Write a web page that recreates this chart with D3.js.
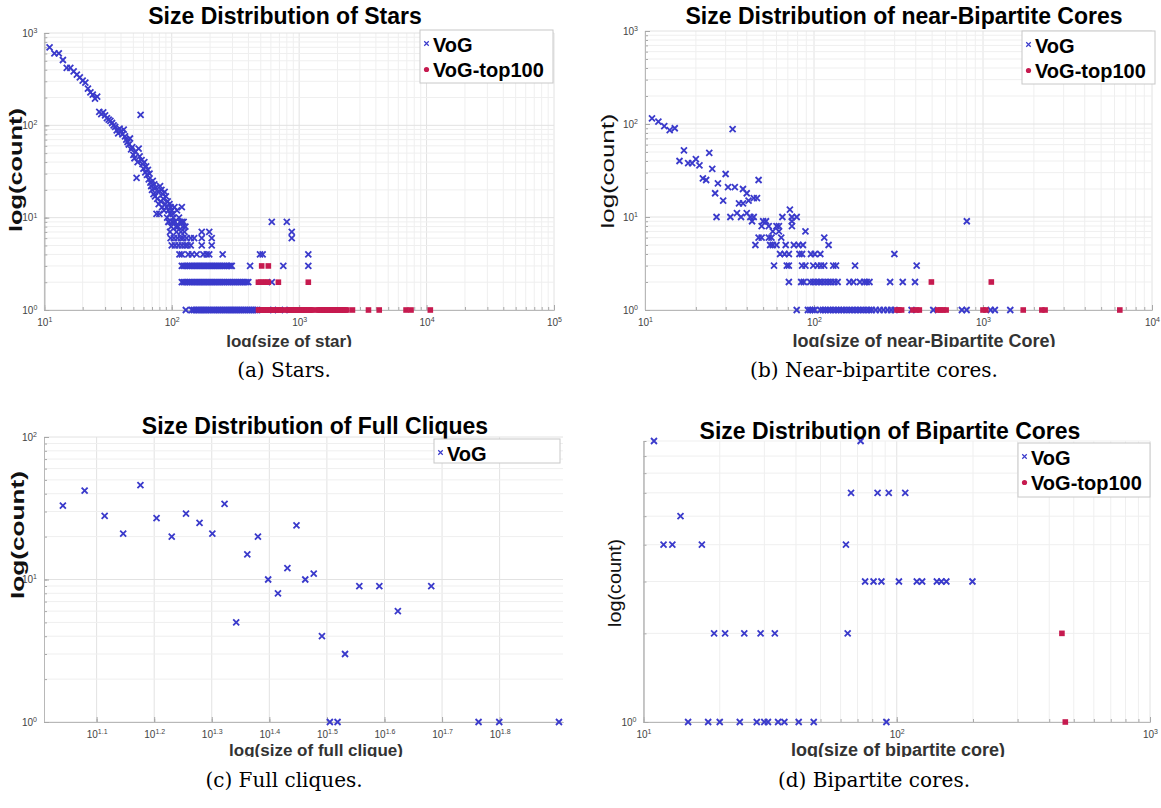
<!DOCTYPE html>
<html>
<head>
<meta charset="utf-8">
<script src="https://d3js.org/d3.v7.min.js"></script>
<style>
  body { margin: 0; background: #fff; }
  svg text { font-family: "Liberation Sans", Arial, sans-serif; }
  .title { font-size: 23px; font-weight: bold; fill: #000; }
  .xlabel { font-weight: bold; fill: #333; }
  .legend text { font-size: 20px; font-weight: bold; fill: #000; }
  .caption { font-size: 20px; fill: #000; }
  .axis text { font-size: 10px; fill: #444; }
  .axis path { stroke: #b8b8b8; }
  .axis line { stroke: #a8a8a8; }
</style>
</head>
<body>
<script>
// ---- (a) stars: [size, count] ----
var starsVoG = [
  [11,700],[12,600],[13,600],[14,510],[15,420],[16,420],[17,385],[18,355],[19,330],[20,305],[21,290],[22,250],[23,228],[24,215],[25,195],[26,205],
  [27,140],[28,132],[29,138],[30,128],[31,120],[32,115],[33,112],[34,106],[35,100],[36,96],[37,88],[38,82],[39,92],[40,86],[41,80],[42,90],
  [43,76],[44,70],[45,66],[46,62],[47,72],[48,55],[49,58],[50,48],[51,44],[52,52],[53,27],[54,40],[55,56],[56,46],[57,130],[58,42],[59,38],[60,34],
  [61,40],[62,31],[63,36],[64,29],[65,33],[66,26],[67,30],[68,24],[69,22],[70,20],[71,25],[72,18],[73,23],[74,17],[75,21],[76,11],[77,16],[78,19],
  [79,14],[80,11],[81,22],[82,15],[83,20],[84,13],[85,18],[86,16],[87,12],[88,19],[89,14],[90,17],[91,13],[92,10],[93,15],[94,12],[95,9],[96,14],
  [97,11],[98,13],[99,8],[100,12],[101,9],[102,11],[103,10],[105,13],[106,9],[108,8],[110,12],[112,8],[114,10],[116,9],[118,7],[120,13],[122,8],[124,9],[126,7],[128,8],
  [94,9],[106,9],[120,9],[610,9],[800,9],
  [97,7],[109,7],[172,7],[197,7],[875,7],
  [98,6],[104,6],[111,6],[118,6],[123,6],[131,6],[141,6],[150,6],[172,6],[206,6],[875,6],
  [100,5],[106,5],[113,5],[120,5],[127,5],[133,5],[141,5],[172,5],[206,5],
  [115,4],[120,4],[135,4],[144,4],[157,4],[177,4],[188,4],[197,4],[251,4],[493,4],[517,4],[1180,4],
  [120,3],[124,3],[128,3],[133,3],[138,3],[143,3],[148,3],[153,3],[158,3],[164,3],[170,3],[176,3],[182,3],[189,3],[196,3],[203,3],[210,3],[218,3],
  [226,3],[234,3],[242,3],[251,3],[260,3],[270,3],[280,3],[290,3],[296,3],[412,3],[751,3],[1180,3],
  [120,2],[124,2],[128,2],[133,2],[138,2],[143,2],[148,2],[153,2],[158,2],[164,2],[170,2],[176,2],[182,2],[189,2],[196,2],[203,2],[210,2],[218,2],
  [226,2],[234,2],[242,2],[251,2],[260,2],[270,2],[280,2],[290,2],[301,2],[312,2],[323,2],[335,2],[347,2],[360,2],[373,2],[386,2],[399,2],[610,2],
  [129,1],[144,1],[149,1],[154,1],[159,1],[164,1],[170,1],[176,1],[182,1],[188,1],[195,1],[202,1],[209,1],[216,1],[224,1],[232,1],[240,1],[249,1],
  [258,1],[267,1],[277,1],[287,1],[297,1],[308,1],[319,1],[330,1],[342,1],[354,1],[367,1],[380,1],[394,1],[408,1],[423,1],[438,1],[454,1],[470,1],[625,1],[770,1]
];
var starsTop = [
  [508,3],[573,3],
  [479,2],[500,2],[525,2],[548,2],[573,2],[687,2],[1180,2],
  [480,1],[495,1],[510,1],[525,1],[540,1],[556,1],[573,1],[590,1],[608,1],[645,1],[665,1],[686,1],[708,1],[730,1],[795,1],[820,1],[845,1],[870,1],
  [896,1],[923,1],[950,1],[978,1],[1007,1],[1037,1],[1068,1],[1100,1],[1133,1],[1167,1],[1202,1],[1238,1],[1275,1],[1390,1],[1430,1],[1475,1],
  [1520,1],[1565,1],[1612,1],[1660,1],[1710,1],[1762,1],[1815,1],[1870,1],[1925,1],[1985,1],[2045,1],[2105,1],[2170,1],[2235,1],[2300,1],[2370,1],
  [2620,1],[3500,1],[4250,1],[6900,1],[7550,1],[10700,1]
];

// ---- (b) near-bipartite cores ----
var nbVoG = [
  [11,115],[12,106],[13,95],[14,86],[15,90],[33,88],
  [16,40],[17,52],[18,38],[19,38],[20,42],[21,36],[24,49],
  [22,26],[23,25],[25,33],[26,18],[27,23],[29,15],[30,29],
  [26.5,10],[31,21],[34,21],[32,10],[35,11],[36,14],[37,10],[38,14],[38,20],[40,18],[41,15],[40,11],[44,16],[46,16],[47,25],
  [42,10],[44,10],[43,9],[50,9],[52,9],[49,8],[54,8],[60,8],[62,8],[57,7],[62,7],
  [47,6],[49,6],[54,6],[56,6],[64,6],[45,5],[55,5],[57,5],[60,5],[68,5],[76,5],[81,5],[86,5],
  [72,12],[74,10],[79,10],[65,10],[74,9],[74,8],[89,7],
  [63,4],[67,4],[71,4],[82,4],[85,4],[96,4],[101,4],[109,4],[115,6],[122,5],[299,4],
  [58,3],[69,3],[71,3],[85,3],[89,3],[99,3],[105,3],[110,3],[115,3],[130,3],[135,3],[175,3],[405,3],
  [71,2],[84,2],[87,2],[95,2],[99,2],[103,2],[107,2],[111,2],[116,2],[121,2],[126,2],[132,2],[138,2],[162,2],[171,2],[187,2],
  [198,2],[205,2],[213,2],[282,2],[335,2],[396,2],
  [802,9],
  [79,1],[92,1],[95,1],[98,1],[101,1],[109,1],[113,1],[117,1],[121,1],[125,1],[130,1],[135,1],[140,1],[145,1],[150,1],[156,1],
  [162,1],[168,1],[175,1],[182,1],[189,1],[196,1],[204,1],[212,1],[220,1],[232,1],[245,1],[258,1],[272,1],[286,1],[300,1],
  [378,1],[508,1],[750,1],[800,1],[1110,1],[1175,1],[1450,1]
];
var nbTop = [
  [495,2],[1120,2],
  [310,1],[318,1],[330,1],[385,1],[405,1],[420,1],[540,1],[560,1],[580,1],[605,1],[1000,1],[1040,1],[1730,1],[2230,1],[2330,1],[6450,1]
];

// ---- (c) full cliques ----
var cliqueSize  = [11, 12, 13, 14, 15, 16, 17, 18, 19, 20, 21, 22, 23, 24, 25, 26, 27, 28, 29, 30, 31, 32, 33, 34, 36, 39, 42, 48, 58, 63, 80];
var cliqueCount = [33, 42, 28, 21, 46, 27, 20, 29, 25, 21, 34,  5, 15, 20, 10,  8, 12, 24, 10, 11,  4,  1,  1,  3,  9,  9,  6,  9,  1,  1,  1];

// ---- (d) bipartite cores ----
var bcVoG = [
  [11,9],[72,9],
  [66,6],[84,6],[93,6],[108,6],
  [14,5],
  [12,4],[13,4],[17,4],[63,4],
  [75,3],[81,3],[87,3],[102,3],[120,3],[126,3],[144,3],[150,3],[157,3],[199,3],
  [19,2],[21,2],[25,2],[29,2],[33,2],[64,2],
  [15,1],[18,1],[20,1],[24,1],[28,1],[30,1],[31,1],[34,1],[36,1],[41,1],[47,1],[91,1]
];
var bcTop = [[449,2],[463,1]];

var blue = "#3a3acb", red = "#c61a4f";

var svg = d3.select("body").append("svg")
  .attr("width", 1161)
  .attr("height", 808);

var xMark = "M-3,-3L3,3M-3,3L3,-3";

function minorValues(domain) {
  var out = [];
  var lo = Math.floor(Math.log10(domain[0])), hi = Math.ceil(Math.log10(domain[1]));
  for (var e = lo; e <= hi; e++) {
    for (var k = 1; k < 10; k++) {
      var v = k * Math.pow(10, e);
      if (v >= domain[0] * 0.999 && v <= domain[1] * 1.001) out.push(v);
    }
  }
  return out;
}

function supLabel(sel, fmt) {
  sel.selectAll(".tick text").each(function(d) {
    var t = d3.select(this);
    t.text("10");
    t.append("tspan")
      .attr("dy", "-0.55em")
      .style("font-size", "7px")
      .text(fmt(d));
  });
}

function drawPanel(p) {
  var clipId = "clip-" + p.id;
  svg.append("clipPath").attr("id", clipId)
    .append("rect")
    .attr("x", p.clip[0]).attr("y", p.clip[1])
    .attr("width", p.clip[2]).attr("height", p.clip[3]);

  var g = svg.append("g").attr("clip-path", "url(#" + clipId + ")");

  var x = d3.scaleLog().domain(p.xDomain).range([p.left, p.right]);
  var y = d3.scaleLog().domain(p.yDomain).range([p.bottom, p.top]);

  // grid
  var grid = g.append("g").attr("class", "grid");
  grid.selectAll("line.gx").data(p.xGrid).enter().append("line")
    .attr("x1", function(d) { return x(d); })
    .attr("x2", function(d) { return x(d); })
    .attr("y1", p.top).attr("y2", p.bottom)
    .attr("stroke", function(d) { return p.xTicks.indexOf(d) >= 0 ? "#e2e2e2" : "#efefef"; })
    .attr("stroke-width", 1);
  grid.selectAll("line.gy").data(p.yGrid).enter().append("line")
    .attr("y1", function(d) { return y(d); })
    .attr("y2", function(d) { return y(d); })
    .attr("x1", p.left).attr("x2", p.right)
    .attr("stroke", function(d) { return p.yTicks.indexOf(d) >= 0 ? "#e2e2e2" : "#efefef"; })
    .attr("stroke-width", 1);

  // minor tick marks
  g.append("g").attr("class", "axis")
    .attr("transform", "translate(0," + p.bottom + ")")
    .call(d3.axisBottom(x).tickValues(p.xGrid).tickSize(-3).tickSizeOuter(0).tickFormat(""));
  g.append("g").attr("class", "axis")
    .attr("transform", "translate(" + p.left + ",0)")
    .call(d3.axisLeft(y).tickValues(p.yGrid).tickSize(-3).tickSizeOuter(0).tickFormat(""));

  // major axes with labels
  var xa = g.append("g").attr("class", "axis")
    .attr("transform", "translate(0," + p.bottom + ")")
    .call(d3.axisBottom(x).tickValues(p.xTicks).tickSize(-5).tickSizeOuter(0).tickPadding(9));
  supLabel(xa, p.xExp);
  var ya = g.append("g").attr("class", "axis")
    .attr("transform", "translate(" + p.left + ",0)")
    .call(d3.axisLeft(y).tickValues(p.yTicks).tickSize(-5).tickSizeOuter(0).tickPadding(7));
  supLabel(ya, p.yExp);

  // points
  p.series.forEach(function(s) {
    var pts = g.append("g").selectAll("path").data(s.data).enter();
    if (s.kind === "x") {
      pts.append("path")
        .attr("transform", function(d) { return "translate(" + x(d[0]) + "," + y(d[1]) + ")"; })
        .attr("d", xMark)
        .attr("stroke", s.color)
        .attr("stroke-width", 1.8)
        .attr("fill", "none");
    } else {
      pts.append("rect")
        .attr("x", function(d) { return x(d[0]) - 2.8; })
        .attr("y", function(d) { return y(d[1]) - 2.8; })
        .attr("width", 5.6).attr("height", 5.6)
        .attr("fill", s.color);
    }
  });

  // title and labels
  g.append("text").attr("class", "title")
    .attr("x", p.titleX).attr("y", p.titleY)
    .attr("text-anchor", "middle")
    .text(p.title);
  g.append("text").attr("class", "xlabel")
    .attr("x", p.xlabelX).attr("y", p.xlabelY)
    .attr("text-anchor", "middle")
    .style("font-size", p.xlabelSize + "px")
    .text(p.xlabel);
  g.append("text")
    .attr("transform", "translate(" + p.ylabelX + "," + p.ylabelY + ") rotate(-90)")
    .attr("text-anchor", "middle")
    .attr("textLength", p.ylabelLen)
    .attr("lengthAdjust", "spacingAndGlyphs")
    .style("font-size", "19px")
    .style("font-weight", p.ylabelBold ? "bold" : "normal")
    .style("fill", "#111")
    .text("log(count)");

  // legend
  var lg = g.append("g").attr("class", "legend");
  lg.append("rect")
    .attr("x", p.legend[0]).attr("y", p.legend[1])
    .attr("width", p.legend[2]).attr("height", p.legend[3])
    .attr("fill", "#fff").attr("stroke", "#c8c8c8");
  p.series.forEach(function(s, i) {
    var cy = p.legend[1] + 13.5 + i * 26;
    if (s.kind === "x") {
      lg.append("path")
        .attr("transform", "translate(" + (p.legend[0] + 6.5) + "," + cy + ") scale(0.75)")
        .attr("d", xMark).attr("stroke", s.color).attr("stroke-width", 1.6).attr("fill", "none");
    } else {
      lg.append("circle")
        .attr("cx", p.legend[0] + 6.5).attr("cy", cy).attr("r", 2.6)
        .attr("fill", s.color);
    }
    lg.append("text")
      .attr("x", p.legend[0] + 13).attr("y", p.legend[1] + 22 + i * 25)
      .text(s.name);
  });

  // caption under the subfigure
  svg.append("text").attr("class", "caption")
    .attr("x", p.capX).attr("y", p.capY)
    .attr("text-anchor", "middle")
    .style("font-family", "'DejaVu Serif', serif")
    .text(p.caption);
}

var decFmt = function(d) { return String(Math.round(Math.log10(d))); };
var fracFmt = function(d) { return d3.format(".1f")(Math.log10(d)); };

var cliques = cliqueSize.map(function(s, i) { return [s, cliqueCount[i]]; });

var panels = [
  {
    id: "a", left: 44.3, right: 554, top: 33, bottom: 310,
    xDomain: [10, 1e5], yDomain: [1, 1000],
    xTicks: [10, 100, 1000, 1e4, 1e5], yTicks: [1, 10, 100, 1000],
    xExp: decFmt, yExp: decFmt,
    title: "Size Distribution of Stars", titleX: 285, titleY: 24,
    xlabel: "log(size of star)", xlabelX: 289, xlabelY: 347, xlabelSize: 17,
    ylabelX: 22, ylabelY: 170, ylabelBold: true, ylabelLen: 124,
    legend: [420, 30, 133, 53],
    series: [{ name: "VoG", kind: "x", color: blue, data: starsVoG },
             { name: "VoG-top100", kind: "dot", color: red, data: starsTop }],
    clip: [0, 0, 578, 347],
    caption: "(a) Stars.", capX: 284, capY: 377
  },
  {
    id: "b", left: 645, right: 1152, top: 31, bottom: 310,
    xDomain: [10, 1e4], yDomain: [1, 1000],
    xTicks: [10, 100, 1000, 1e4], yTicks: [1, 10, 100, 1000],
    xExp: decFmt, yExp: decFmt,
    title: "Size Distribution of near-Bipartite Cores", titleX: 904, titleY: 24,
    xlabel: "log(size of near-Bipartite Core)", xlabelX: 924, xlabelY: 347, xlabelSize: 18,
    ylabelX: 614, ylabelY: 171, ylabelBold: false, ylabelLen: 115,
    legend: [1022, 31, 133, 53],
    series: [{ name: "VoG", kind: "x", color: blue, data: nbVoG },
             { name: "VoG-top100", kind: "dot", color: red, data: nbTop }],
    clip: [580, 0, 581, 347],
    caption: "(b) Near-bipartite cores.", capX: 874, capY: 377
  },
  {
    id: "c", left: 44, right: 563, top: 437, bottom: 722,
    xDomain: [10.2, 81.3], yDomain: [1, 100],
    xTicks: [1.1, 1.2, 1.3, 1.4, 1.5, 1.6, 1.7, 1.8].map(function(e) { return Math.pow(10, e); }),
    yTicks: [1, 10, 100],
    xExp: fracFmt, yExp: decFmt,
    title: "Size Distribution of Full Cliques", titleX: 315, titleY: 434,
    xlabel: "log(size of full clique)", xlabelX: 316, xlabelY: 756, xlabelSize: 17,
    ylabelX: 24, ylabelY: 535, ylabelBold: true, ylabelLen: 128,
    legend: [434, 439, 126, 24],
    series: [{ name: "VoG", kind: "x", color: blue, data: cliques }],
    clip: [0, 405, 578, 352],
    caption: "(c) Full cliques.", capX: 284, capY: 787
  },
  {
    id: "d", left: 643.5, right: 1150, top: 441, bottom: 722,
    xDomain: [10, 1000], yDomain: [1, 9],
    xTicks: [10, 100, 1000], yTicks: [1],
    xExp: decFmt, yExp: decFmt,
    title: "Size Distribution of Bipartite Cores", titleX: 890, titleY: 439,
    xlabel: "log(size of bipartite core)", xlabelX: 898, xlabelY: 756, xlabelSize: 18,
    ylabelX: 621, ylabelY: 583, ylabelBold: false, ylabelLen: 88,
    legend: [1018, 443, 132, 54],
    series: [{ name: "VoG", kind: "x", color: blue, data: bcVoG },
             { name: "VoG-top100", kind: "dot", color: red, data: bcTop }],
    clip: [580, 405, 581, 352],
    caption: "(d) Bipartite cores.", capX: 874, capY: 787
  }
];

panels.forEach(function(p) {
  p.xGrid = p.id === "c" ? p.xTicks : minorValues(p.xDomain);
  p.yGrid = minorValues(p.yDomain);
  drawPanel(p);
});
</script>
</body>
</html>
